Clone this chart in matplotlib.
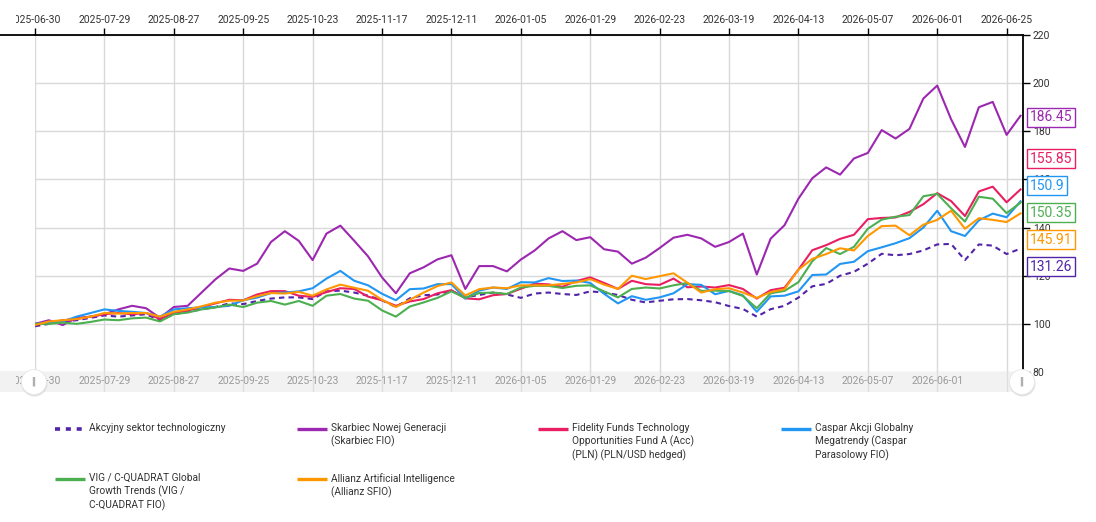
import matplotlib
matplotlib.use("Agg")
import matplotlib.pyplot as plt
import numpy as np
from matplotlib.lines import Line2D
from matplotlib.patches import Rectangle, Ellipse
from matplotlib.transforms import Bbox, TransformedBbox

plt.rcParams['font.family'] = ['Roboto', 'DejaVu Sans']

# tick dates (every 5th sample on the category axis)
dates = ["2025-06-30", "2025-07-29", "2025-08-27", "2025-09-25", "2025-10-23",
         "2025-11-17", "2025-12-11", "2026-01-05", "2026-01-29", "2026-02-23",
         "2026-03-19", "2026-04-13", "2026-05-07", "2026-06-01", "2026-06-25"]

names = ["Akcyjny sektor technologiczny",
         "Skarbiec Nowej Generacji\n(Skarbiec FIO)",
         "Fidelity Funds Technology\nOpportunities Fund A (Acc)\n(PLN) (PLN/USD hedged)",
         "Caspar Akcji Globalny\nMegatrendy (Caspar\nParasolowy FIO)",
         "VIG / C-QUADRAT Global\nGrowth Trends (VIG /\nC-QUADRAT FIO)",
         "Allianz Artificial Intelligence\n(Allianz SFIO)"]

colors = ["#5224a8", "#9c27b0", "#e91e63", "#2196f3", "#4caf50", "#ff9800"]

akcyjny = [99, 100, 101, 101.5, 102.5, 103.5, 103, 103.5, 104, 101.5,
           104, 105, 106, 107, 108.5, 108.2, 109.5, 110.5, 111, 111,
           110.3, 113.5, 113.8, 113, 111.7, 109.8, 107, 110.6, 111.9, 112.2,
           113.7, 111, 112, 113, 112.2, 110.8, 112.6, 113, 112.4, 112,
           113.5, 113, 112, 110, 108.9, 109.6, 110.2, 110.3, 109.8, 109,
           107.4, 106.2, 103, 106.1, 107.5, 110.9, 115.6, 116.6, 120, 121.6,
           125, 129.1, 128.5, 129, 130.5, 133, 133.2, 126.5, 133, 132.5,
           129, 131.26]

skarbiec = [100, 101.5, 99.5, 102.5, 103, 104, 106, 107.5, 106.5, 102.5,
            107, 107.5, 113, 118.5, 123, 122, 125, 134, 138.5, 134.5,
            126.5, 137.5, 140.8, 134.5, 128, 119.3, 112.7, 121, 123.5, 126.8,
            128.5, 114.5, 124, 124, 121.8, 126.7, 130.5, 135.5, 138.5, 134.8,
            136, 131, 130, 125, 127.5, 131.5, 135.8, 137, 135.5, 132,
            134, 137.5, 120.5, 135.4, 141, 152, 160.5, 165, 162, 168.7,
            171, 180.5, 177, 181, 193.6, 199, 185, 173.5, 190, 192.2,
            178.5, 186.45]

fidelity = [100, 100.5, 101.5, 102, 103, 104, 104.5, 104, 104.5, 102,
            104.5, 105.5, 107, 108.5, 110, 109.8, 112.2, 113.6, 113.6, 111.7,
            111.2, 113.2, 114.8, 114.5, 111.3, 109.8, 107.5, 109.3, 110.3, 112.7,
            114, 110.6, 110.2, 111.9, 112.4, 114.6, 116.7, 116.4, 115.4, 117.8,
            119.3, 117, 114.5, 117.9, 116.5, 116.2, 118.8, 115.2, 115.5, 115.1,
            116.1, 114.5, 110.5, 114, 115, 122.5, 130.6, 132.7, 135.3, 137,
            143.5, 144, 144.2, 146.5, 149.7, 154.3, 151, 144.8, 155, 157,
            150.5, 155.85]

caspar = [100, 100.5, 101, 103, 104.5, 106, 105.4, 105, 104.5, 103,
          106, 106.5, 106.8, 107, 107.5, 109.8, 110.9, 112.8, 113, 113.5,
          114.8, 118.8, 122, 117.9, 116, 112.5, 109.8, 114.4, 114.7, 116.5,
          116.5, 110.5, 113.8, 115.1, 114.5, 117.3, 117.2, 119, 117.8, 118,
          117, 112.5, 108.5, 111.5, 110, 111, 112.7, 116.5, 116.2, 112.3,
          113.7, 111.8, 105, 111.4, 111.7, 113.5, 120.3, 120.5, 124.9, 125.8,
          130.2, 131.8, 133.5, 135.6, 140, 147, 138.5, 136.5, 143, 145.8,
          144.3, 150.9]

vig = [100, 100, 100.5, 100, 100.8, 101.8, 101.5, 102.3, 102.6, 101,
       104, 104.7, 106, 106.8, 108, 107, 108.8, 109.5, 108, 109.5,
       107.5, 111.7, 112.4, 110.5, 109.6, 105.6, 103, 107.2, 108.9, 110.8,
       113.5, 110.8, 112.8, 113, 112.4, 115.1, 115.8, 115.8, 114.9, 115.8,
       116, 113.5, 111, 114.5, 115.1, 114.7, 116, 117, 113.7, 113.8,
       113.6, 111.6, 106.5, 112.7, 113.7, 117.3, 126, 131.5, 129, 132,
       139.5, 143.3, 144.5, 145.2, 153, 154, 148, 142.5, 152.8, 152,
       146, 150.35]

allianz = [99.5, 101, 101.5, 102, 103, 104.5, 104.3, 104.5, 104.5, 103,
           105, 106, 107.3, 108.8, 109.6, 109.7, 111.5, 112.8, 112.6, 113.3,
           111.7, 114.3, 116.3, 115, 113.75, 110, 107, 110, 113, 115.7,
           117.2, 111.8, 114.4, 115.1, 114.8, 116, 116, 116, 116.6, 117.2,
           118.6, 116.3, 114.5, 120, 118.6, 119.8, 121, 117.1, 113, 114.4,
           114.8, 113, 110.8, 113.2, 114.4, 122.5, 127, 129, 131.4, 130.5,
           136.5, 140.6, 140.8, 136.8, 141.2, 143.2, 147, 139.5, 143.9, 143.2,
           142.3, 145.91]

series = [akcyjny, skarbiec, fidelity, caspar, vig, allianz]

W, H = 1096, 522
fig = plt.figure(figsize=(W / 100, H / 100), dpi=100)
ax = fig.add_axes([35 / W, 1 - 372 / H, 988 / W, 337 / H])

n = len(akcyjny)
x = np.arange(n)
tick_idx = np.arange(0, 5 * len(dates), 5)

for i, (s, c) in enumerate(zip(series, colors)):
    if i == 0:
        ax.plot(x, s, color=c, lw=1.5, dashes=(2.6, 2.0), zorder=3)
    else:
        ax.plot(x, s, color=c, lw=1.5, zorder=3)

ax.set_xlim(0, n - 1 + 0.18)
ax.set_ylim(80, 220)
ax.set_yticks(np.arange(80, 221, 20))
ax.yaxis.tick_right()
ax.xaxis.tick_top()
ax.set_xticks(tick_idx)
ax.set_xticklabels(dates)
ax.tick_params(axis='x', direction='out', length=5, width=1, labelsize=7.5,
               pad=2, labelcolor='#333333')
ax.tick_params(axis='y', direction='out', length=5, width=1, labelsize=7.5,
               pad=2, labelcolor='#333333')
ax.grid(True, color='#d9d9d9', lw=1)
ax.set_axisbelow(True)
for side in ['left', 'bottom']:
    ax.spines[side].set_visible(False)
for side in ['right', 'top']:
    ax.spines[side].set_color('black')
    ax.spines[side].set_linewidth(1.3)

clip = TransformedBbox(Bbox([[16 / W, 0], [1, 1]]), fig.transFigure)
first = ax.get_xticklabels()[0]
first.set_clip_box(clip)
first.set_clip_on(True)

# top axis line continues to the left edge
fig.add_artist(Line2D([0, 35 / W], [1 - 35 / H] * 2, color='black', lw=1.3))

# value tags on the right, spread so they don't overlap
last = [s[-1] for s in series]
gap = 27 * 140 / 337
order = sorted(range(len(last)), key=lambda k: -last[k])
clusters = [[k] for k in order]


def place(cl):
    centre = np.mean([last[k] for k in cl])
    m = len(cl)
    return {k: centre + gap * ((m - 1) / 2 - j) for j, k in enumerate(cl)}


merged = True
while merged:
    merged = False
    for j in range(len(clusters) - 1):
        a, b = place(clusters[j]), place(clusters[j + 1])
        if a[clusters[j][-1]] - b[clusters[j + 1][0]] < gap:
            clusters[j] = clusters[j] + clusters[j + 1]
            del clusters[j + 1]
            merged = True
            break

tag_y = {}
for cl in clusters:
    tag_y.update(place(cl))

for k in range(len(series)):
    ax.text(1.007, tag_y[k] - 0.6, f"{last[k]:g}", transform=ax.get_yaxis_transform(),
            color=colors[k], fontsize=10, ha='left', va='center', zorder=10,
            clip_on=False,
            bbox=dict(boxstyle='square,pad=0.18', fc='white', ec=colors[k], lw=1))

# navigator strip
fig.patches.append(Rectangle((0, 1 - 392 / H), 1023 / W, 21 / H,
                             transform=fig.transFigure, fc='#f2f2f2',
                             ec='none', zorder=-1))
nav = fig.add_axes([35 / W, 1 - 392 / H, 988 / W, 21 / H])
nav.set_xlim(ax.get_xlim())
nav.set_ylim(0, 1)
nav.axis('off')
for t in tick_idx:
    nav.plot([t, t], [0, 1], color='#dedede', lw=1)
# the last date sits under the right handle, so it is not shown in the strip
for t, d in zip(tick_idx[:-1], dates[:-1]):
    lab = nav.text(t, 0.5, d, ha='center', va='center', fontsize=7.5,
                   color='#9a9a9a')
    if t == 0:
        lab.set_clip_box(clip)
        lab.set_clip_on(True)

for cx in [34, 1022]:
    fig.add_artist(Ellipse(((cx + 0.5) / W, 1 - 383.5 / H), 26 / W, 26 / H,
                           transform=fig.transFigure, fc='#d0d0d0', ec='none',
                           alpha=0.6, zorder=5))
    fig.add_artist(Ellipse((cx / W, 1 - 382 / H), 25 / W, 25 / H,
                           transform=fig.transFigure, fc='white', ec='#e6e6e6',
                           lw=0.6, zorder=6))
    fig.text(cx / W, 1 - 382 / H, "||", ha='center', va='center', fontsize=7.5,
             color='#808080', zorder=7)

# legend below the chart
col_x = [55, 297, 538, 781]
row_y = [429, 479]
for k, (name, c) in enumerate(zip(names, colors)):
    lx = col_x[k % 4]
    ly = row_y[k // 4]
    if k == 0:
        fig.add_artist(Line2D([lx / W, (lx + 30) / W], [1 - ly / H] * 2, color=c,
                              lw=2.6, dashes=(1.4, 1.6), solid_capstyle='butt'))
    else:
        fig.add_artist(Line2D([lx / W, (lx + 30) / W], [1 - ly / H] * 2, color=c,
                              lw=2.4, solid_capstyle='butt'))
    fig.text((lx + 34) / W, 1 - (ly - 6) / H, name, ha='left', va='top',
             fontsize=7.3, color='#333333', linespacing=1.25)

fig.savefig("out.png", dpi=100)
